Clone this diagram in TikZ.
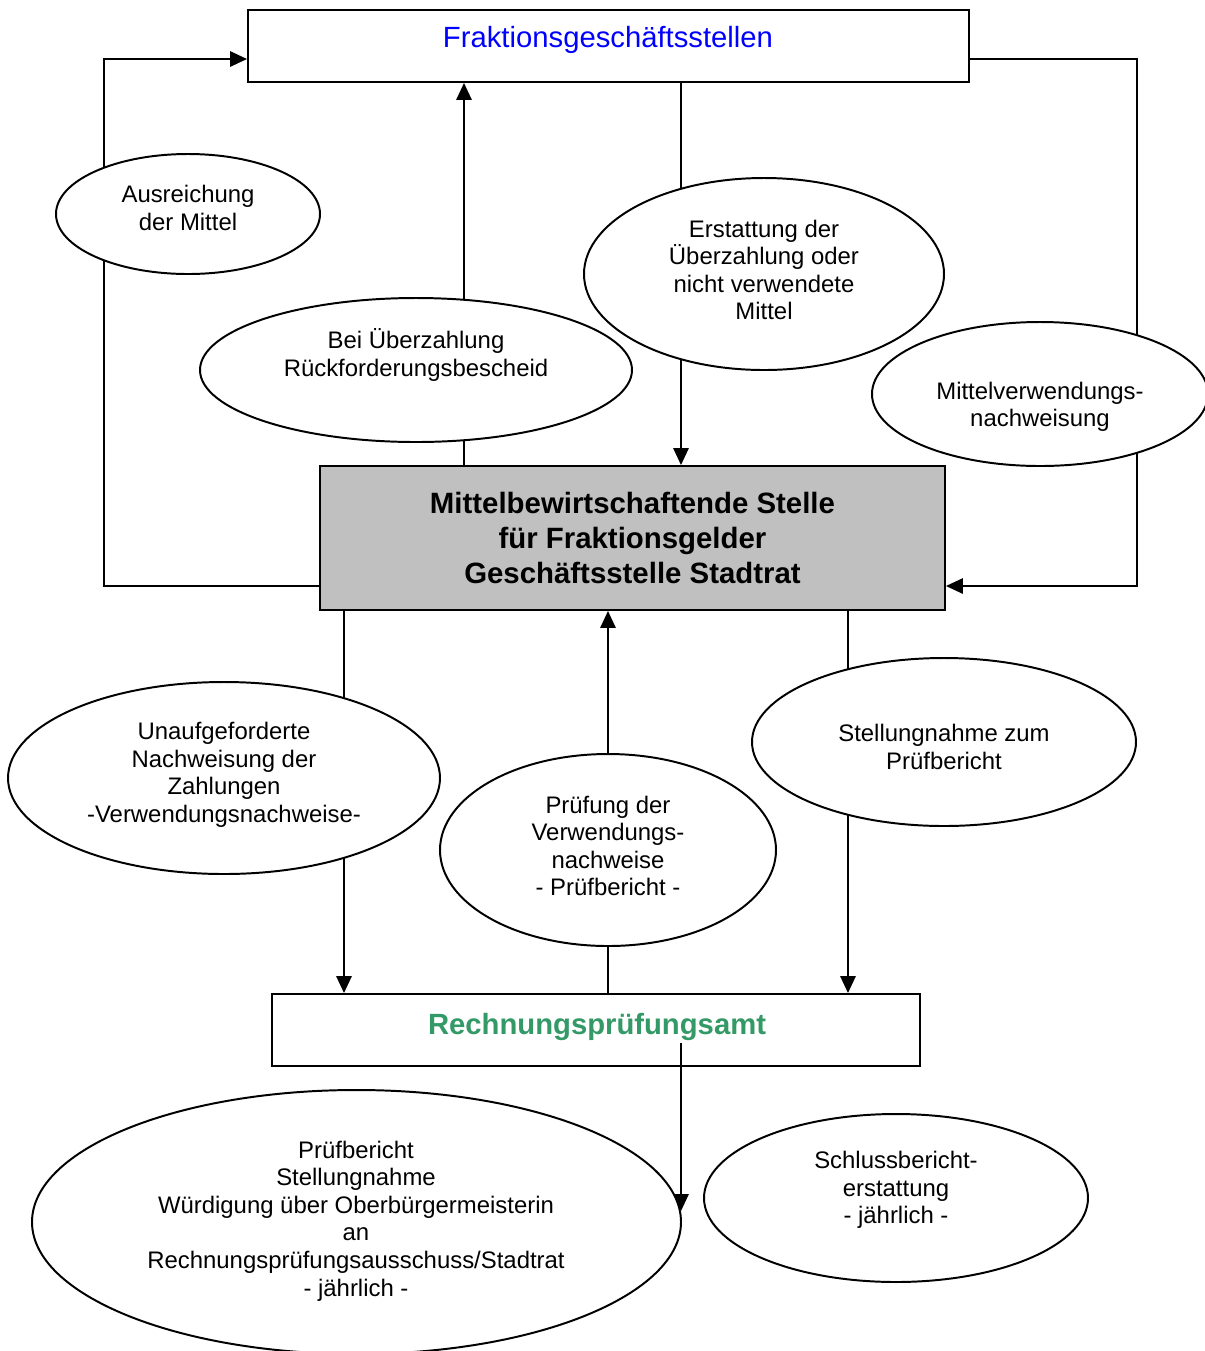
\documentclass[tikz,border=0pt]{standalone}
\usepackage{fontspec}
\setmainfont{Liberation Sans}
\usetikzlibrary{arrows.meta,shapes.geometric}
\pgfdeclarelayer{background}
\pgfsetlayers{background,main}
\definecolor{rpagreen}{HTML}{339966}
\definecolor{boxgray}{HTML}{C0C0C0}
\begin{document}
\begin{tikzpicture}[x=0.025cm,y=-0.025cm,
  line width=1.4pt,
  arr/.style={line width=1.4pt,draw=black,-{Triangle[length=0.42cm,width=0.38cm]}},
  ell/.style={ellipse,draw,line width=1.4pt,fill=white,inner sep=0pt},
  lbl/.style={align=center,inner sep=0pt,font=\fontsize{17}{19.6}\selectfont},
  box/.style={rectangle,draw,line width=1.4pt,inner sep=0pt}]
\useasboundingbox (0,0) rectangle (1205,1351);

% boxes
\node[box,minimum width=721*0.025cm,minimum height=72*0.025cm] (top) at (608.5,46) {};
\node[inner sep=0pt,text=blue,font=\fontsize{20.8}{24}\selectfont] (toptxt) at (608,40) {Fraktionsgeschäftsstellen};
\node[box,fill=boxgray,minimum width=625*0.025cm,minimum height=144*0.025cm,align=center,
  font=\bfseries\fontsize{20.9}{24.8}\selectfont] (main) at (632.5,538) {Mittelbewirtschaftende Stelle\\für Fraktionsgelder\\Geschäftsstelle Stadtrat};
\node[box,minimum width=648*0.025cm,minimum height=72*0.025cm] (rpa) at (596,1030) {};
\node[inner sep=0pt,text=rpagreen,font=\bfseries\fontsize{20.8}{24}\selectfont] (rpatxt) at (597,1027) {Rechnungsprüfungsamt};

% ellipses
\node[ell,minimum width=264*0.025cm,minimum height=120*0.025cm] (e1) at (188,214) {};
\node[ell,minimum width=432*0.025cm,minimum height=144*0.025cm] (e2) at (416,370) {};
\node[ell,minimum width=360*0.025cm,minimum height=192*0.025cm] (e3) at (764,274) {};
\node[ell,minimum width=336*0.025cm,minimum height=144*0.025cm] (e4) at (1040,394) {};
\node[ell,minimum width=432*0.025cm,minimum height=192*0.025cm] (e5) at (224,778) {};
\node[ell,minimum width=336*0.025cm,minimum height=192*0.025cm] (e6) at (608,850) {};
\node[ell,minimum width=384*0.025cm,minimum height=168*0.025cm] (e7) at (944,742) {};
\node[ell,minimum width=649*0.025cm,minimum height=264*0.025cm] (big) at (356.5,1222) {};
\node[ell,minimum width=384*0.025cm,minimum height=168*0.025cm] (e9) at (896,1198) {};

% labels
\node[lbl] (l1) at (188,208) {Ausreichung\\der Mittel};
\node[lbl] (l2) at (416,355) {Bei Überzahlung\\Rückforderungsbescheid};
\node[lbl] (l3) at (764,270) {Erstattung der\\Überzahlung oder\\nicht verwendete\\Mittel};
\node[lbl] (l4) at (1040,407) {Mittelverwendungs-\\nachweisung};
\node[lbl] (l5) at (224,775) {Unaufgeforderte\\Nachweisung der\\Zahlungen\\-Verwendungsnachweise-};
\node[lbl] (l6) at (608,846) {Prüfung der\\Verwendungs-\\nachweise\\- Prüfbericht -};
\node[lbl] (l7) at (944,747) {Stellungnahme zum\\Prüfbericht};
\node[lbl] (l8) at (356,1221) {Prüfbericht\\Stellungnahme\\Würdigung über Oberbürgermeisterin\\an\\Rechnungsprüfungsausschuss/Stadtrat\\- jährlich -};
\node[lbl] (l9) at (896,1190) {Schlussbericht-\\erstattung\\- jährlich -};

\coordinate (rpain) at (681,1043);

% connectors
\begin{pgfonlayer}{background}
\draw[arr] (main.west |- 0,586) -| (104,59) -- (top.west |- 0,59);
\draw[arr] (top.east |- 0,59) -| (1137,586) -- (main.east |- 0,586);
\draw[arr] (main.north -| 464,0) -- (top.south -| 464,0);
\draw[arr] (top.south -| 681,0) -- (main.north -| 681,0);
\draw[arr] (main.south -| 344,0) -- (rpa.north -| 344,0);
\draw[arr] (rpa.north -| 608,0) -- (main.south -| 608,0);
\draw[arr] (main.south -| 848,0) -- (rpa.north -| 848,0);
\draw[arr] (rpain) -- (rpain |- 0,1211);
\end{pgfonlayer}
\end{tikzpicture}
\end{document}
